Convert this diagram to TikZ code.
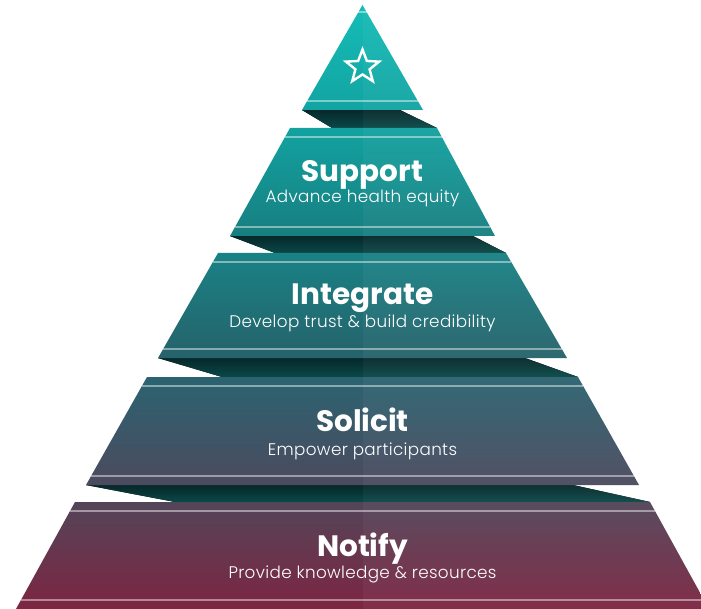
\documentclass[tikz,border=0pt]{standalone}
\usepackage{fontspec}
\usetikzlibrary{shapes.geometric,calc}
\newfontfamily\ttlfont{Poppins}
\newfontfamily\subfont{Poppins Light}[LetterSpace=2]
\definecolor{t1a}{HTML}{15BCB7}
\definecolor{t1b}{HTML}{12A4A2}
\definecolor{t2a}{HTML}{12A2A0}
\definecolor{t2b}{HTML}{187E80}
\definecolor{t3a}{HTML}{198285}
\definecolor{t3b}{HTML}{26626B}
\definecolor{t4a}{HTML}{2B6371}
\definecolor{t4b}{HTML}{4C4A5E}
\definecolor{t5a}{HTML}{534559}
\definecolor{t5b}{HTML}{7D2541}
\definecolor{sha}{HTML}{05282A}
\definecolor{shb}{HTML}{0B4848}
\tikzset{
  shadowband/.style={top color=sha, bottom color=shb, draw=none},
  stripe/.style={draw=white, draw opacity=0.45, line width=1.8pt},
  ttl/.style={text=white, font=\ttlfont\bfseries\fontsize{29.5}{31}\selectfont, anchor=base, inner sep=0pt},
  subt/.style={text=white, font=\subfont\fontsize{16.8}{19}\selectfont, anchor=base, inner sep=0pt},
}
\begin{document}
\begin{tikzpicture}[x=1pt,y=-1pt]
\useasboundingbox (0,0) rectangle (701,609);
\clip (0,0) rectangle (701,609);
% corners
\coordinate (t1ap) at (362.5,5);
\coordinate (t1bl) at (302,110); \coordinate (t1br) at (423,110);
\coordinate (t2tl) at (290,128); \coordinate (t2tr) at (437,128);
\coordinate (t2bl) at (230,236); \coordinate (t2br) at (495,236);
\coordinate (t3tl) at (218,253); \coordinate (t3tr) at (506,253);
\coordinate (t3bl) at (158,358); \coordinate (t3br) at (567,358);
\coordinate (t4tl) at (147,377); \coordinate (t4tr) at (578,377);
\coordinate (t4bl) at (86,485);  \coordinate (t4br) at (639,485);
\coordinate (t5tl) at (75,502);  \coordinate (t5tr) at (650,502);
\coordinate (t5bl) at (16,609);  \coordinate (t5br) at (709,609);
% shadow bands
\fill[shadowband] (t1bl) -- (400,110) -- (t2tr) -- (332,128) -- cycle;
\fill[shadowband] (t2bl) -- (473,236) -- (t3tr) -- (275,253) -- cycle;
\fill[shadowband] (t3bl) -- (525,358) -- (t4tr) -- (222,377) -- cycle;
\fill[shadowband] (t4bl) -- (573,485) -- (t5tr) -- (175,502) -- cycle;
% tiers
\shade[top color=t1a, bottom color=t1b] (t1ap) -- (t1br) -- (t1bl) -- cycle;
\shade[top color=t2a, bottom color=t2b] (t2tl) -- (t2tr) -- (t2br) -- (t2bl) -- cycle;
\shade[top color=t3a, bottom color=t3b] (t3tl) -- (t3tr) -- (t3br) -- (t3bl) -- cycle;
\shade[top color=t4a, bottom color=t4b] (t4tl) -- (t4tr) -- (t4br) -- (t4bl) -- cycle;
\shade[top color=t5a, bottom color=t5b] (t5tl) -- (t5tr) -- (t5br) -- (t5bl) -- cycle;
% lighter right half
\begin{scope}
\clip (t1ap) -- (t1br) -- (t1bl) -- cycle
      (t1bl) -- (400,110) -- (t2tr) -- (332,128) -- cycle
      (t2tl) -- (t2tr) -- (t2br) -- (t2bl) -- cycle
      (t2bl) -- (473,236) -- (t3tr) -- (275,253) -- cycle
      (t3tl) -- (t3tr) -- (t3br) -- (t3bl) -- cycle
      (t3bl) -- (525,358) -- (t4tr) -- (222,377) -- cycle
      (t4tl) -- (t4tr) -- (t4br) -- (t4bl) -- cycle
      (t4bl) -- (573,485) -- (t5tr) -- (175,502) -- cycle
      (t5tl) -- (t5tr) -- (t5br) -- (t5bl) -- cycle;
\fill[white, opacity=0.04] (362.5,0) rectangle (701,609);
\end{scope}
% stripes
\draw[stripe] ($(t1ap)!0.067!(t1bl)$) -- ($(t1ap)!0.067!(t1br)$);
\draw[stripe] ($(t1ap)!0.914!(t1bl)$) -- ($(t1ap)!0.914!(t1br)$);
\draw[stripe] ($(t2tl)!0.083!(t2bl)$) -- ($(t2tr)!0.083!(t2br)$);
\draw[stripe] ($(t2tl)!0.917!(t2bl)$) -- ($(t2tr)!0.917!(t2br)$);
\draw[stripe] ($(t3tl)!0.086!(t3bl)$) -- ($(t3tr)!0.086!(t3br)$);
\draw[stripe] ($(t3tl)!0.914!(t3bl)$) -- ($(t3tr)!0.914!(t3br)$);
\draw[stripe] ($(t4tl)!0.083!(t4bl)$) -- ($(t4tr)!0.083!(t4br)$);
\draw[stripe] ($(t4tl)!0.917!(t4bl)$) -- ($(t4tr)!0.917!(t4br)$);
\draw[stripe] ($(t5tl)!0.084!(t5bl)$) -- ($(t5tr)!0.084!(t5br)$);
\draw[stripe] ($(t5tl)!0.916!(t5bl)$) -- ($(t5tr)!0.916!(t5br)$);
% star
\node[star, star points=5, star point ratio=2.35, minimum size=35pt, inner sep=0pt,
      draw=white, line width=2.4pt] (star) at (362.5,67) {};
% texts
\node[ttl]  (support)   at (362.5,182) {Support};
\node[subt] (supportd)  at (362.5,203) {Advance health equity};
\node[ttl]  (integrate) at (362.5,305) {Integrate};
\node[subt] (integrated) at (362.5,327) {Develop trust \& build credibility};
\node[ttl]  (solicit)   at (362.5,431) {Solicit};
\node[subt] (solicitd)  at (362.5,455) {Empower participants};
\node[ttl]  (notify)    at (362.5,556) {Notify};
\node[subt] (notifyd)   at (362.5,578) {Provide knowledge \& resources};
\end{tikzpicture}
\end{document}
